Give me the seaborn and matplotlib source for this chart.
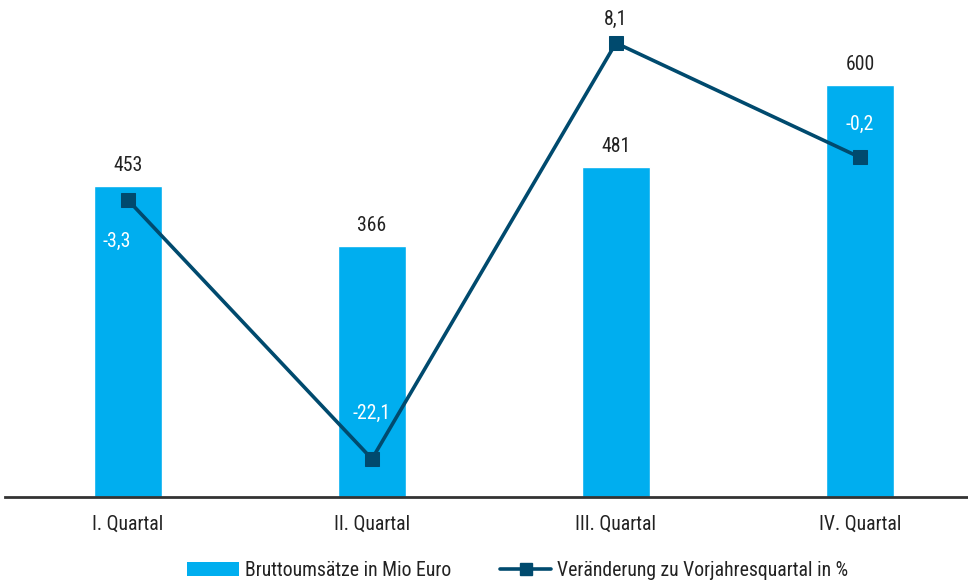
import matplotlib
matplotlib.use("Agg")
import matplotlib.pyplot as plt
from matplotlib import font_manager
from matplotlib.lines import Line2D
from matplotlib.patches import Patch
import seaborn as sns
import pandas as pd

quarters = ["I. Quartal", "II. Quartal", "III. Quartal", "IV. Quartal"]
umsatz = [453, 366, 481, 600]
veraenderung = [-3.3, -22.1, 8.1, -0.2]
veraenderung_labels = ["-3,3", "-22,1", "8,1", "-0,2"]

sns.set_theme(style="white")
names = {f.name for f in font_manager.fontManager.ttflist}
preferred = ["Roboto Condensed", "Liberation Sans Narrow", "Arial Narrow", "Roboto"]
fam = [n for n in preferred if n in names][:1] + ["DejaVu Sans"]
plt.rcParams["font.family"] = fam

BAR = "#00AEEF"
LINE = "#004A6E"
TXT = "#222222"
FS = 14.2

df = pd.DataFrame({"Quartal": quarters, "Umsatz": umsatz, "Veraenderung": veraenderung})

fig = plt.figure(figsize=(9.68, 5.81), dpi=100)
ax = fig.add_axes([5 / 968, 1 - 497 / 581, 963 / 968, 477 / 581])

sns.barplot(data=df, x="Quartal", y="Umsatz", color=BAR, width=0.279,
            saturation=1, ax=ax, zorder=2)
ax.set_xlim(-0.504, 3.443)
ax.set_ylim(0, 694.7)

for i, v in enumerate(umsatz):
    ax.annotate(str(v), (i, v), xytext=(0, 14.5), textcoords="offset points",
                ha="center", va="center", fontsize=FS, color=TXT)

ax2 = ax.twinx()
sns.lineplot(x=list(range(4)), y=veraenderung, ax=ax2, color=LINE, linewidth=2.6,
             marker="s", markersize=10, markeredgecolor=LINE, markerfacecolor=LINE, zorder=3)
ax2.set_ylim(-24.86, 9.77)
ax2.set_xlim(-0.504, 3.443)

offsets = [(-8, -30), (0, 33), (0, 17), (0, 23.5)]
for i, (v, lab) in enumerate(zip(veraenderung, veraenderung_labels)):
    col = "white" if i != 2 else TXT
    ax2.annotate(lab, (i, v), xytext=offsets[i], textcoords="offset points",
                 ha="center", va="center", fontsize=FS, color=col)

for a in (ax, ax2):
    a.set_yticks([])
    a.set_ylabel("")
    for s in ("top", "right", "left", "bottom"):
        a.spines[s].set_visible(False)
ax.spines["bottom"].set_visible(True)
ax.spines["bottom"].set_color("#333333")
ax.spines["bottom"].set_linewidth(2)
ax.set_xlabel("")
ax.tick_params(axis="x", length=0, pad=13, labelsize=FS, labelcolor=TXT)

handles = [Patch(facecolor=BAR, edgecolor="none"),
           Line2D([0], [0], color=LINE, lw=2.6, marker="s", markersize=8)]
fig.legend(handles, ["Bruttoumsätze in Mio Euro", "Veränderung zu Vorjahresquartal in %"],
           loc="center", bbox_to_anchor=(0.535, 1 - 570 / 581), ncol=2,
           frameon=False, fontsize=FS, handlelength=2.6, handletextpad=0.3,
           columnspacing=2.5, labelcolor=TXT)

fig.savefig("out.png", dpi=100)
